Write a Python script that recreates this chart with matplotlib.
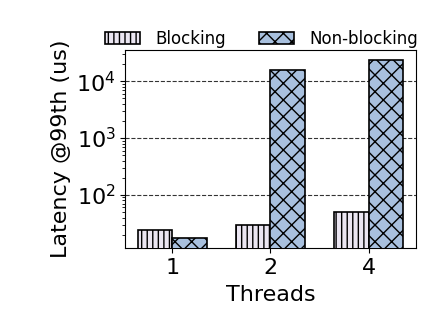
import numpy as np
import matplotlib
matplotlib.use("Agg")
import matplotlib.pyplot as plt

# data
threads = ["1", "2", "4"]
blocking = [24, 30, 50]
non_blocking = [17.5, 16000, 24000]

plt.rcParams['hatch.linewidth'] = 1.0

fig = plt.figure(figsize=(4.32, 3.24), dpi=100)
ax = fig.add_axes([0.29, 0.235, 0.672, 0.61])

x = np.arange(len(threads))
w = 0.35
ax.bar(x - w / 2, blocking, w, color="#ebe6f2", edgecolor="black",
       hatch="|||", linewidth=1.2, label="Blocking", zorder=3)
ax.bar(x + w / 2, non_blocking, w, color="#a8c0de", edgecolor="black",
       hatch="xx", linewidth=1.2, label="Non-blocking", zorder=3)

ax.set_yscale("log")
ax.set_ylim(11.7, 35000)
ax.set_xlim(-0.48, 2.48)
ax.set_xticks(x)
ax.set_xticklabels(threads, fontsize=16)
ax.tick_params(axis="y", labelsize=16)
ax.set_xlabel("Threads", fontsize=16, labelpad=5)
ax.set_ylabel("Latency @99th (us)", fontsize=16)
ax.yaxis.grid(True, which="major", linestyle="--", color="black", linewidth=0.8, alpha=0.8)
ax.set_axisbelow(True)

ax.legend(loc="lower center", bbox_to_anchor=(0.469, 0.98), ncol=2, frameon=False,
          fontsize=12, handlelength=2.1, handleheight=0.7, columnspacing=2.0,
          borderaxespad=0, handletextpad=0.9)

fig.savefig("out.png", dpi=100)
